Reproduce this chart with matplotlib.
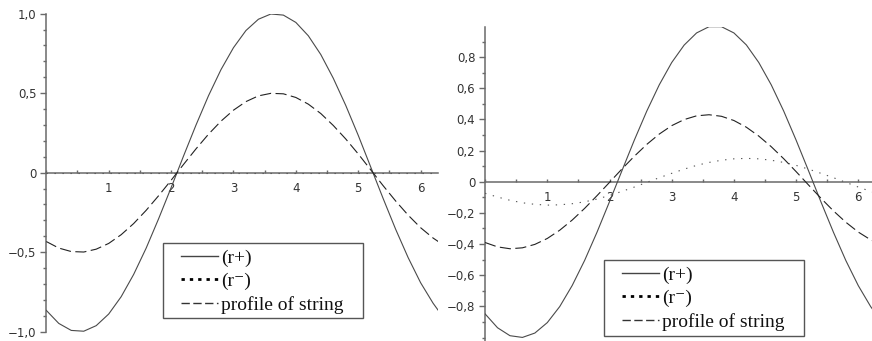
import numpy as np
import matplotlib
matplotlib.use("Agg")
import matplotlib.pyplot as plt
from matplotlib.lines import Line2D
from matplotlib.patches import Rectangle
from matplotlib.ticker import MultipleLocator, FuncFormatter, FixedLocator

# sample points along the string (x)
x = [0.0, 0.2, 0.4, 0.6, 0.8, 1.0, 1.2, 1.4, 1.6, 1.8, 2.0, 2.2, 2.4, 2.6, 2.8, 3.0,
     3.2, 3.4, 3.6, 3.8, 4.0, 4.2, 4.4, 4.6, 4.8, 5.0, 5.2, 5.4, 5.6, 5.8, 6.0, 6.2, 6.283]

# left panel
left_rplus = [-0.866, -0.948, -0.992, -0.997, -0.962, -0.889, -0.780, -0.640, -0.475, -0.290,
              -0.095, 0.105, 0.300, 0.484, 0.648, 0.786, 0.894, 0.965, 0.998, 0.991, 0.945,
              0.861, 0.743, 0.594, 0.423, 0.235, 0.036, -0.163, -0.356, -0.534, -0.692, -0.821, -0.866]
left_rminus = [0.0] * len(x)
left_profile = [-0.433, -0.474, -0.496, -0.499, -0.481, -0.445, -0.390, -0.320, -0.237, -0.145,
                -0.048, 0.052, 0.150, 0.242, 0.324, 0.393, 0.447, 0.483, 0.499, 0.496, 0.473,
                0.431, 0.372, 0.297, 0.212, 0.118, 0.018, -0.082, -0.178, -0.267, -0.346, -0.411, -0.433]

# right panel
right_rplus = [-0.848, -0.937, -0.988, -0.999, -0.971, -0.904, -0.801, -0.666, -0.505, -0.323,
               -0.128, 0.071, 0.268, 0.454, 0.622, 0.765, 0.877, 0.955, 0.995, 0.995, 0.955,
               0.878, 0.765, 0.622, 0.454, 0.267, 0.070, -0.130, -0.324, -0.506, -0.667, -0.802, -0.847]
right_rminus = [-0.074, -0.098, -0.119, -0.135, -0.145, -0.150, -0.148, -0.141, -0.129, -0.111,
                -0.088, -0.062, -0.034, -0.004, 0.026, 0.054, 0.081, 0.105, 0.124, 0.138, 0.147,
                0.150, 0.147, 0.138, 0.124, 0.105, 0.081, 0.054, 0.026, -0.004, -0.034, -0.062, -0.073]
right_profile = [-0.390, -0.418, -0.430, -0.424, -0.402, -0.364, -0.311, -0.246, -0.171, -0.089,
                 -0.004, 0.082, 0.164, 0.240, 0.306, 0.360, 0.399, 0.423, 0.430, 0.420, 0.393,
                 0.350, 0.293, 0.225, 0.148, 0.065, -0.021, -0.106, -0.187, -0.260, -0.323, -0.373, -0.389]

labels = ["(r+)", "(r\u207b)", "profile of string"]
left_yticks = [-1.0, -0.5, 0.0, 0.5, 1.0]
right_yticks = [-0.8, -0.6, -0.4, -0.2, 0.0, 0.2, 0.4, 0.6, 0.8]
xticks = [1, 2, 3, 4, 5, 6]

W, H = 872, 341
AX_COL = "#6a6a6a"
TXT_COL = "#333333"


def comma(v, pos=None):
    if abs(v) < 1e-9:
        return "0"
    s = f"{abs(v):.1f}".replace(".", ",")
    return ("\u2212" if v < 0 else "") + s


def style(ax, yticks):
    for side in ["top", "right"]:
        ax.spines[side].set_visible(False)
    ax.spines["left"].set_position(("data", 0))
    ax.spines["bottom"].set_position(("data", 0))
    for side in ["left", "bottom"]:
        ax.spines[side].set_color(AX_COL)
        ax.spines[side].set_linewidth(1.1)
        ax.spines[side].set_zorder(1)
    ax.xaxis.set_major_locator(FixedLocator(xticks))
    ax.xaxis.set_minor_locator(MultipleLocator(0.5))
    ax.yaxis.set_major_locator(FixedLocator(yticks))
    ax.yaxis.set_minor_locator(MultipleLocator(0.1))
    ax.yaxis.set_major_formatter(FuncFormatter(comma))
    ax.tick_params(axis="x", which="both", direction="in", length=2.5, width=1,
                   color=AX_COL, pad=7, labelsize=8.5, labelcolor=TXT_COL)
    ax.tick_params(axis="y", which="major", direction="out", length=4, width=1,
                   color=AX_COL, pad=3, labelsize=8.5, labelcolor=TXT_COL)
    ax.tick_params(axis="y", which="minor", direction="out", length=2.5, width=1, color=AX_COL)
    ax.patch.set_visible(False)


def draw(ax, rplus, rminus, profile):
    ax.plot(x, rplus, color="#4a4a4a", lw=0.8, zorder=3)
    ax.plot(x, rminus, color="#555555", lw=0.8, dashes=(1.2, 6), zorder=3)
    ax.plot(x, profile, color="#222222", lw=0.8, dashes=(10, 4), zorder=3)


fig = plt.figure(figsize=(W / 100, H / 100), dpi=100)

ax1 = fig.add_axes([0.0531, 0.0273, 0.4495, 0.9326])
draw(ax1, left_rplus, left_rminus, left_profile)
ax1.set_xlim(0, 6.283)
ax1.set_ylim(-1.0, 1.0)
style(ax1, left_yticks)

ax2 = fig.add_axes([0.5563, 0.0, 0.4437, 0.9217])
draw(ax2, right_rplus, right_rminus, right_profile)
ax2.set_xlim(0, 6.22)
ax2.set_ylim(-1.022, 0.995)
style(ax2, right_yticks)

handles = [Line2D([], [], color="#444444", lw=1.0),
           Line2D([], [], color="black", lw=2.0, dashes=(1.2, 1.8)),
           Line2D([], [], color="#333333", lw=1.0, dashes=(6, 2.5))]

leg_font = {"family": ["Liberation Serif", "DejaVu Serif"], "size": 14}
# legend boxes in pixels: left, top, width, height
for bx, by, bw, bh in [(163, 243, 200, 75), (604, 260, 200, 76)]:
    fig.patches.append(Rectangle((bx / W, 1 - (by + bh) / H), bw / W, bh / H,
                                 transform=fig.transFigure, facecolor="white",
                                 edgecolor="#555555", lw=1.0, zorder=5))
    leg = fig.legend(handles, labels, prop=leg_font, loc="upper left",
                     bbox_to_anchor=((bx + 18) / W, 1 - (by + 6) / H),
                     frameon=False, handlelength=1.9, handletextpad=0.15,
                     labelspacing=0.3, borderpad=0.0, borderaxespad=0.0)
    leg.set_zorder(6)
    for t in leg.get_texts():
        t.set_color("#111111")

fig.savefig("out.png", dpi=100)
